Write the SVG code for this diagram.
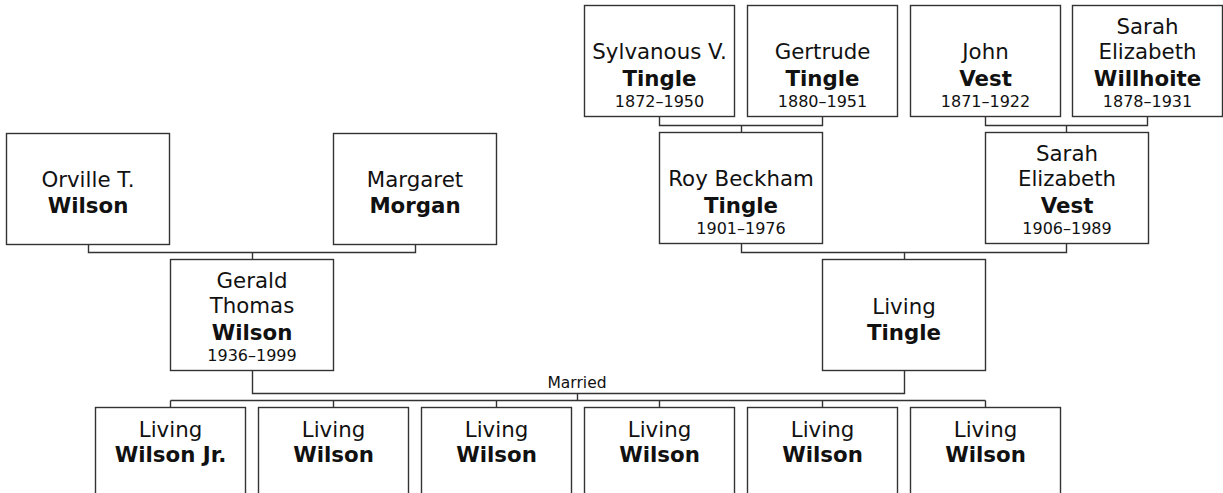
<svg xmlns="http://www.w3.org/2000/svg" width="1223" height="493" viewBox="0 0 1223 493">
<style>
.box{fill:#fff;stroke:#333;stroke-width:1.4}
.ln{fill:none;stroke:#333;stroke-width:1.4}
text{font-family:"DejaVu Sans",Verdana,sans-serif;fill:#111;text-anchor:middle}
.n{font-size:21.33px}
.b{font-size:21.33px;font-weight:bold}
.d{font-size:16px}
.m{font-size:15.5px}
</style>
<rect width="1223" height="493" fill="#fff"/>
<g id="connectors">
<path class="ln" d="M88.5 244.5V252.5H415.5V244.5M252.5 252.5V259.5"/>
<path class="ln" d="M659.5 116.5V125.5H822.5V116.5M741.5 125.5V132.5"/>
<path class="ln" d="M985.5 116.5V125.5H1147.5V116.5M1066.5 125.5V132.5"/>
<path class="ln" d="M741.5 243.5V252.5H1066.5V243.5M904.5 252.5V259.5"/>
<path class="ln" d="M252.5 370.5V393.5H904.5V370.5M577.5 393.5V400.5"/>
<path class="ln" d="M170.5 400.5H985.5M170.5 400.5V407.5M333.5 400.5V407.5M496.5 400.5V407.5M659.5 400.5V407.5M822.5 400.5V407.5M985.5 400.5V407.5"/>
<text class="m" x="577" y="388">Married</text>
</g>
<g id="orville">
<rect class="box" x="6.5" y="133.5" width="163" height="111"/>
<text class="n" x="88" y="187">Orville T.</text>
<text class="b" x="88" y="213">Wilson</text>
</g>
<g id="margaret">
<rect class="box" x="333.5" y="133.5" width="163" height="111"/>
<text class="n" x="415" y="187">Margaret</text>
<text class="b" x="415" y="213">Morgan</text>
</g>
<g id="gerald">
<rect class="box" x="170.5" y="259.5" width="163" height="111"/>
<text class="n" x="252" y="288">Gerald</text>
<text class="n" x="252" y="313">Thomas</text>
<text class="b" x="252" y="340">Wilson</text>
<text class="d" x="252" y="361">1936–1999</text>
</g>
<g id="sylvanous">
<rect class="box" x="584.5" y="5.5" width="150" height="111"/>
<text class="n" x="659.5" y="59">Sylvanous V.</text>
<text class="b" x="659.5" y="86">Tingle</text>
<text class="d" x="659.5" y="107">1872–1950</text>
</g>
<g id="gertrude">
<rect class="box" x="747.5" y="5.5" width="150" height="111"/>
<text class="n" x="822.5" y="59">Gertrude</text>
<text class="b" x="822.5" y="86">Tingle</text>
<text class="d" x="822.5" y="107">1880–1951</text>
</g>
<g id="john">
<rect class="box" x="910.5" y="5.5" width="150" height="111"/>
<text class="n" x="985.5" y="59">John</text>
<text class="b" x="985.5" y="86">Vest</text>
<text class="d" x="985.5" y="107">1871–1922</text>
</g>
<g id="sarah-willhoite">
<rect class="box" x="1072.5" y="5.5" width="150" height="111"/>
<text class="n" x="1147.5" y="34">Sarah</text>
<text class="n" x="1147.5" y="59">Elizabeth</text>
<text class="b" x="1147.5" y="86">Willhoite</text>
<text class="d" x="1147.5" y="107">1878–1931</text>
</g>
<g id="roy">
<rect class="box" x="659.5" y="132.5" width="163" height="111"/>
<text class="n" x="741" y="186">Roy Beckham</text>
<text class="b" x="741" y="213">Tingle</text>
<text class="d" x="741" y="234">1901–1976</text>
</g>
<g id="sarah-vest">
<rect class="box" x="985.5" y="132.5" width="163" height="111"/>
<text class="n" x="1067" y="161">Sarah</text>
<text class="n" x="1067" y="186">Elizabeth</text>
<text class="b" x="1067" y="213">Vest</text>
<text class="d" x="1067" y="234">1906–1989</text>
</g>
<g id="living-tingle">
<rect class="box" x="822.5" y="259.5" width="163" height="111"/>
<text class="n" x="904" y="314">Living</text>
<text class="b" x="904" y="340">Tingle</text>
</g>
<g id="child1">
<rect class="box" x="95.5" y="407.5" width="150" height="112"/>
<text class="n" x="170.5" y="437">Living</text>
<text class="b" x="170.5" y="462">Wilson Jr.</text>
</g>
<g id="child2">
<rect class="box" x="258.5" y="407.5" width="150" height="112"/>
<text class="n" x="333.5" y="437">Living</text>
<text class="b" x="333.5" y="462">Wilson</text>
</g>
<g id="child3">
<rect class="box" x="421.5" y="407.5" width="150" height="112"/>
<text class="n" x="496.5" y="437">Living</text>
<text class="b" x="496.5" y="462">Wilson</text>
</g>
<g id="child4">
<rect class="box" x="584.5" y="407.5" width="150" height="112"/>
<text class="n" x="659.5" y="437">Living</text>
<text class="b" x="659.5" y="462">Wilson</text>
</g>
<g id="child5">
<rect class="box" x="747.5" y="407.5" width="150" height="112"/>
<text class="n" x="822.5" y="437">Living</text>
<text class="b" x="822.5" y="462">Wilson</text>
</g>
<g id="child6">
<rect class="box" x="910.5" y="407.5" width="150" height="112"/>
<text class="n" x="985.5" y="437">Living</text>
<text class="b" x="985.5" y="462">Wilson</text>
</g>
</svg>
